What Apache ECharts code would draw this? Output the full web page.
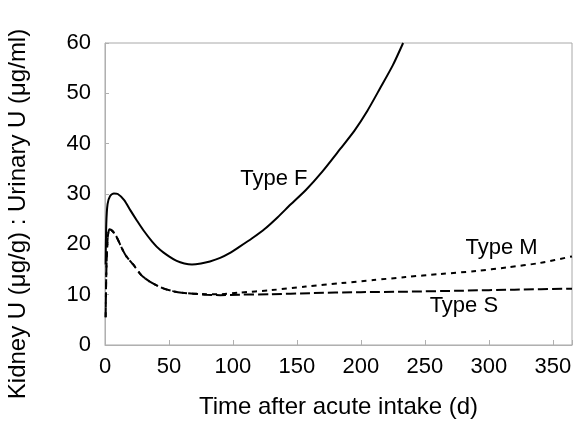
<!DOCTYPE html>
<html>
<head>
<meta charset="utf-8">
<script src="https://cdn.jsdelivr.net/npm/echarts@6/dist/echarts.min.js"></script>
<style>
  html, body { margin: 0; padding: 0; background: #fff; }
  #chart { width: 576px; height: 425px; }
</style>
</head>
<body>
<div id="chart"></div>
<script>
// Kidney-to-urine uranium ratio after an acute intake, by absorption type.
const xTicks = [0, 50, 100, 150, 200, 250, 300, 350];
const yTicks = [0, 10, 20, 30, 40, 50, 60];

const typeFDays = [0.5, 1, 2, 4, 7, 10, 15, 20, 25, 30, 37, 43, 50, 56, 62, 68, 75, 82, 90, 97, 105, 115, 125, 135, 145, 157, 170, 184, 195, 205, 215, 225, 233];
const typeFVals = [16, 24, 28, 29.6, 30.1, 30, 28.8, 26.7, 24.7, 22.8, 20.5, 18.9, 17.6, 16.7, 16.2, 16.0, 16.2, 16.6, 17.3, 18.2, 19.5, 21.2, 23.1, 25.4, 27.9, 30.8, 34.5, 39.0, 42.6, 46.5, 51.0, 55.6, 60];

const typeMDays = [0.5, 1, 2, 3.5, 6, 9, 14, 17, 22, 27, 30, 35, 40, 45, 53, 60, 69, 79, 90, 105, 130, 157, 185, 210, 235, 262, 290, 314, 340, 365];
const typeMVals = [5.5, 14, 21, 23, 22.6, 21.5, 18.8, 17.5, 16, 14.3, 13.5, 12.6, 11.9, 11.3, 10.7, 10.4, 10.2, 10.1, 10.1, 10.4, 10.9, 11.6, 12.3, 12.9, 13.5, 14.1, 14.7, 15.4, 16.3, 17.6];

const typeSDays = [0.5, 1, 2, 3.5, 6, 9, 14, 17, 22, 27, 30, 35, 40, 45, 53, 60, 69, 79, 90, 105, 130, 160, 200, 236, 280, 320, 365];
const typeSVals = [5.5, 14, 21, 23, 22.6, 21.5, 18.8, 17.5, 16, 14.3, 13.5, 12.6, 11.9, 11.3, 10.7, 10.4, 10.2, 10.0, 9.9, 10.0, 10.1, 10.3, 10.5, 10.6, 10.8, 11.0, 11.2];

// Curve labels, anchored in data coordinates
const curveLabels = [
  { text: 'Type F', day: 132, value: 33 },
  { text: 'Type M', day: 310, value: 19.3 },
  { text: 'Type S', day: 280.5, value: 7.75 }
];

const yTitle = 'Kidney U (μg/g) : Urinary U (μg/ml)';
const xTitle = 'Time after acute intake (d)';

const FONT = '"Liberation Sans", Arial, sans-serif';
const pairs = (xs, ys) => xs.map((x, i) => [x, ys[i]]);

const chart = echarts.init(document.getElementById('chart'), null, { renderer: 'canvas' });

const lineSeries = (name, xs, ys, dash) => ({
  name,
  type: 'line',
  data: pairs(xs, ys),
  smooth: 0.25,
  symbol: 'none',
  clip: true,
  lineStyle: { color: '#000', width: 2, type: dash },
  animation: false
});

chart.setOption({
  backgroundColor: '#fff',
  animation: false,
  grid: {
    left: 105, right: 4, top: 43, bottom: 80,
    outerBoundsMode: 'none',
    containLabel: false,
    show: true, borderColor: '#a8a8a8', borderWidth: 1, backgroundColor: 'transparent'
  },
  xAxis: {
    type: 'value',
    min: 0, max: 365, interval: 50,
    name: xTitle,
    nameLocation: 'middle',
    nameGap: 50,
    nameTextStyle: { fontFamily: FONT, fontSize: 24, color: '#000' },
    axisLine: { show: true, lineStyle: { color: '#b0b0b0', width: 1 } },
    axisTick: { show: true, inside: true, length: 5, lineStyle: { color: '#b0b0b0' } },
    axisLabel: {
      fontFamily: FONT, fontSize: 22, color: '#000', margin: 11,
      customValues: xTicks
    },
    splitLine: { show: false }
  },
  yAxis: {
    type: 'value',
    min: 0, max: 60, interval: 10,
    axisLine: { show: true, lineStyle: { color: '#b0b0b0', width: 1 } },
    axisTick: { show: true, inside: true, length: 4, lineStyle: { color: '#b0b0b0' } },
    axisLabel: {
      fontFamily: FONT, fontSize: 22, color: '#000', margin: 14,
      customValues: yTicks
    },
    splitLine: { show: false }
  },
  series: [
    lineSeries('Type F', typeFDays, typeFVals, 'solid'),
    lineSeries('Type M', typeMDays, typeMVals, [5, 5]),
    lineSeries('Type S', typeSDays, typeSVals, [10, 4])
  ]
});

// Curve names and the vertical axis title as text elements
const labelElements = curveLabels.map(l => {
  const [px, py] = chart.convertToPixel({ gridIndex: 0 }, [l.day, l.value]);
  return {
    type: 'text', x: px, y: py, silent: true,
    style: { text: l.text, font: '22px ' + FONT, fill: '#000', align: 'center', verticalAlign: 'middle' }
  };
});
labelElements.push({
  type: 'text', x: 18, y: 214, rotation: Math.PI / 2, silent: true,
  style: { text: yTitle, font: '24px ' + FONT, fill: '#000', align: 'center', verticalAlign: 'middle' }
});
chart.setOption({ graphic: labelElements });
</script>
</body>
</html>
